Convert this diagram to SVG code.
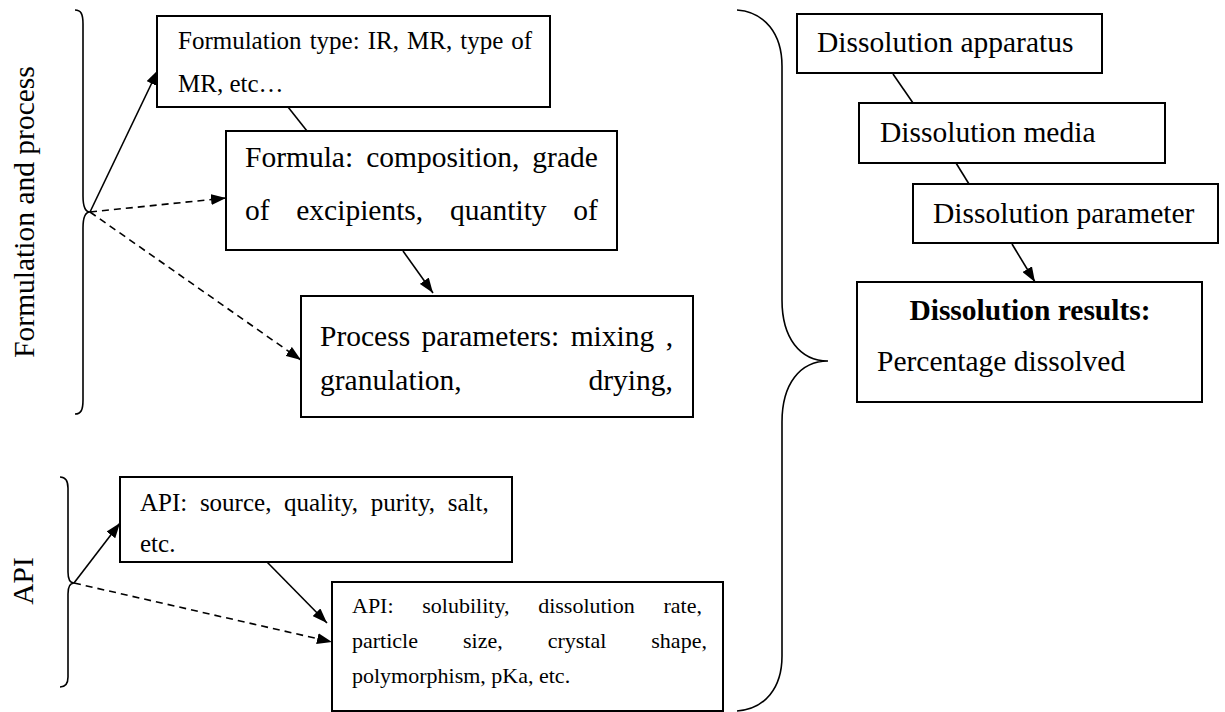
<svg xmlns="http://www.w3.org/2000/svg" width="1225" height="712" viewBox="0 0 1225 712">
  <style>
    .box { fill: #ffffff; stroke: #000000; stroke-width: 2; }
    .txt { font-family: "Liberation Serif", "Times New Roman", serif; fill: #000000; }
    .s25 { font-size: 25px; }
    .s22 { font-size: 22px; }
    .s29 { font-size: 29.5px; }
    .bold { font-weight: bold; }
    .link { fill: none; stroke: #000000; stroke-width: 1.6; }
    .dash { stroke-dasharray: 7 5; }
    .brace { fill: none; stroke: #000000; stroke-width: 1.6; }
  </style>
  <defs>
    <marker id="head" markerUnits="userSpaceOnUse" markerWidth="15" markerHeight="11" refX="15" refY="5.5" orient="auto">
      <path d="M0,0 L15,5.5 L0,11 z" fill="#000000"/>
    </marker>
  </defs>

  <rect width="1225" height="712" fill="#ffffff"/>

  <!-- group labels and braces -->
  <g id="label-formulation">
    <text class="txt s29" transform="translate(34,212) rotate(-90)" text-anchor="middle">Formulation and process</text>
    <path class="brace" d="M75,10 C81,10 83,14 83,24 L83,196 C83,206 85,212 90,212 C85,212 83,218 83,228 L83,400 C83,410 81,414 75,414"/>
  </g>
  <g id="label-api">
    <text class="txt s29" transform="translate(33,581) rotate(-90)" text-anchor="middle">API</text>
    <path class="brace" d="M60,477 C65,477 68,480 68,488 L68,572 C68,579 70,583 74,583 C70,583 68,587 68,594 L68,677 C68,684 65,687 60,687"/>
  </g>
  <g id="brace-results">
    <path class="brace" d="M737,10 C765,12 782,34 782,66 L782,300 C782,338 800,361 828,361 C800,361 782,384 782,422 L782,656 C782,688 765,709 737,711"/>
  </g>

  <!-- connectors -->
  <g id="connectors">
    <line class="link" x1="90" y1="212" x2="158" y2="70" marker-end="url(#head)"/>
    <line class="link dash" x1="90" y1="212" x2="226" y2="198" marker-end="url(#head)"/>
    <line class="link dash" x1="90" y1="212" x2="301" y2="360" marker-end="url(#head)"/>
    <line class="link" x1="288" y1="107" x2="307" y2="131"/>
    <line class="link" x1="403" y1="251" x2="433" y2="293" marker-end="url(#head)"/>
    <line class="link" x1="74" y1="583" x2="120" y2="523" marker-end="url(#head)"/>
    <line class="link dash" x1="74" y1="583" x2="332" y2="642" marker-end="url(#head)"/>
    <line class="link" x1="267" y1="562" x2="327" y2="623" marker-end="url(#head)"/>
    <line class="link" x1="893" y1="74" x2="913" y2="103"/>
    <line class="link" x1="956" y1="163" x2="969" y2="184"/>
    <line class="link" x1="1012" y1="244" x2="1035" y2="282" marker-end="url(#head)"/>
  </g>

  <!-- formulation and process nodes -->
  <g id="node-formulation-type">
    <rect class="box" x="157" y="16" width="393" height="91"/>
    <text class="txt s25" x="178" y="49" word-spacing="1.8">Formulation type: IR, MR, type of</text>
    <text class="txt s25" x="178" y="92">MR, etc…</text>
  </g>
  <g id="node-formula">
    <rect class="box" x="226" y="131" width="391" height="119"/>
    <text class="txt s29" x="245" y="167" word-spacing="5.6">Formula: composition, grade</text>
    <text class="txt s29" x="245" y="220" word-spacing="19.3">of excipients, quantity of</text>
  </g>
  <g id="node-process">
    <rect class="box" x="301" y="296" width="392" height="121"/>
    <text class="txt s29" x="320" y="346" word-spacing="4.1">Process parameters: mixing ,</text>
    <text class="txt s29" x="320" y="390" word-spacing="119.4">granulation, drying,</text>
  </g>

  <!-- API nodes -->
  <g id="node-api-source">
    <rect class="box" x="120" y="477" width="392" height="85"/>
    <text class="txt s25" x="140" y="511" word-spacing="6.4">API: source, quality, purity, salt,</text>
    <text class="txt s25" x="140" y="552">etc.</text>
  </g>
  <g id="node-api-properties">
    <rect class="box" x="332" y="582" width="391" height="129"/>
    <text class="txt s22" x="352" y="613" word-spacing="23.2">API: solubility, dissolution rate,</text>
    <text class="txt s22" x="352" y="648" word-spacing="39.5">particle size, crystal shape,</text>
    <text class="txt s22" x="352" y="683">polymorphism, pKa, etc.</text>
  </g>

  <!-- dissolution nodes -->
  <g id="node-apparatus">
    <rect class="box" x="797" y="14" width="305" height="59"/>
    <text class="txt s29" x="817" y="52">Dissolution apparatus</text>
  </g>
  <g id="node-media">
    <rect class="box" x="859" y="103" width="306" height="60"/>
    <text class="txt s29" x="880" y="142">Dissolution media</text>
  </g>
  <g id="node-parameter">
    <rect class="box" x="913" y="184" width="305" height="59"/>
    <text class="txt s29" x="933" y="223">Dissolution parameter</text>
  </g>
  <g id="node-results">
    <rect class="box" x="857" y="282" width="345" height="120"/>
    <text class="txt s29 bold" x="1030" y="320" text-anchor="middle">Dissolution results:</text>
    <text class="txt s29" x="877" y="371">Percentage dissolved</text>
  </g>
</svg>
